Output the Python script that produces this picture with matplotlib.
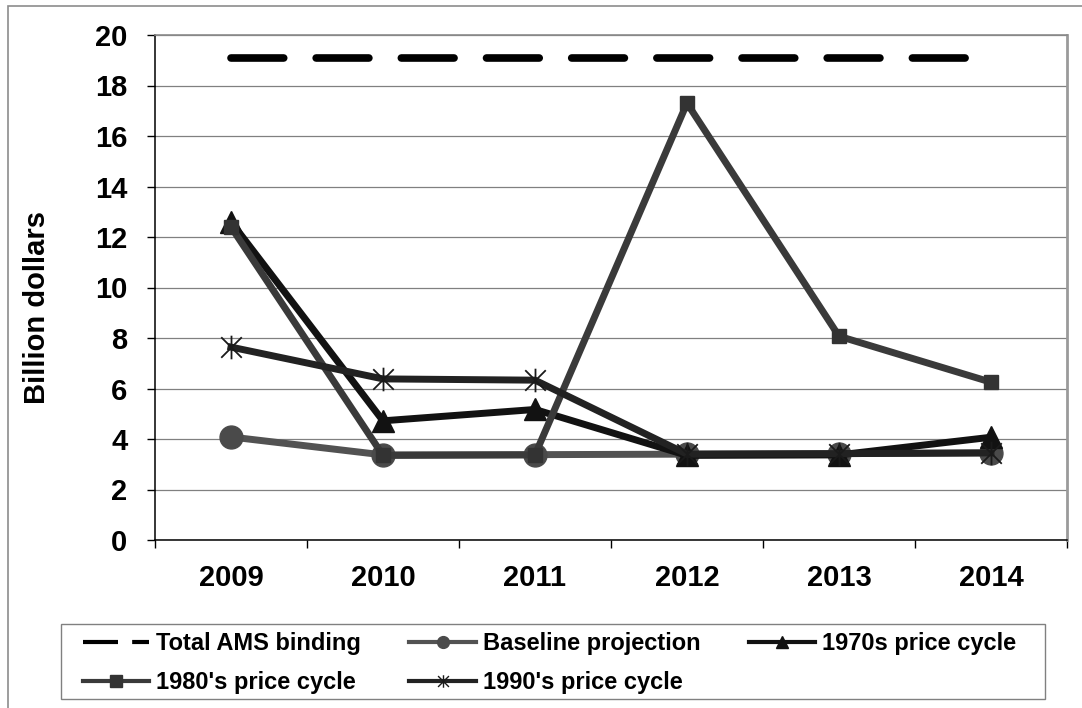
import matplotlib
matplotlib.use("Agg")
import matplotlib.pyplot as plt
from matplotlib.lines import Line2D
from matplotlib.patches import Rectangle
from matplotlib.path import Path

plt.rcParams['font.family'] = ['Liberation Sans', 'DejaVu Sans']
plt.rcParams['font.weight'] = 'bold'

# Chart data (billion dollars)
years = ['2009', '2010', '2011', '2012', '2013', '2014']
total_ams = [19.1, 19.1, 19.1, 19.1, 19.1, 19.1]
baseline = [4.08, 3.37, 3.38, 3.4, 3.42, 3.45]
cycle_1970s = [12.6, 4.72, 5.17, 3.35, 3.37, 4.07]
cycle_1980s = [12.4, 3.35, 3.37, 17.3, 8.07, 6.25]
cycle_1990s = [7.64, 6.38, 6.33, 3.4, 3.42, 3.45]
y_ticks = [0, 2, 4, 6, 8, 10, 12, 14, 16, 18, 20]

# asterisk marker: vertical bar plus an X
star = Path([(-1, -1), (1, 1), (-1, 1), (1, -1), (0, -1.15), (0, 1.15)],
            [Path.MOVETO, Path.LINETO, Path.MOVETO, Path.LINETO,
             Path.MOVETO, Path.LINETO])

W, H = 1082, 708
fig = plt.figure(figsize=(W / 100, H / 100), dpi=100)
ax = fig.add_axes([155 / W, 1 - 540 / H, 912 / W, 505 / H])

x = [i + 0.5 for i in range(len(years))]

ax.plot(x, total_ams, color='black', lw=5.5, dashes=(6.9, 4.25),
        dash_capstyle='round', zorder=3)
ax.plot(x, baseline, color='#525252', lw=5, marker='o', ms=16.5,
        mfc='#4a4a4a', mec='#4a4a4a', zorder=4)
ax.plot(x, cycle_1970s, color='#121212', lw=5, marker='^', ms=16,
        mfc='#121212', mec='#121212', zorder=5)
ax.plot(x, cycle_1980s, color='#3a3a3a', lw=5, marker='s', ms=9.5,
        mfc='#333333', mec='#333333', zorder=6)
ax.plot(x, cycle_1990s, color='#222222', lw=5, marker=star, ms=17,
        mfc='none', mec='#1a1a1a', mew=1.3, zorder=7)

ax.set_xlim(0, 6)
ax.set_ylim(0, 20)
ax.set_yticks(y_ticks)
ax.set_xticks(x)
ax.set_xticklabels(years)
ax.set_xticks(range(7), minor=True)
ax.tick_params(axis='x', which='major', length=0, pad=17, labelsize=21)
ax.tick_params(axis='x', which='minor', length=5.5, width=1, direction='out')
ax.tick_params(axis='y', length=5.8, width=1, pad=14, labelsize=21)
ax.grid(axis='y', color='#808080', lw=0.9, zorder=1)
ax.set_axisbelow(True)

ax.spines['left'].set_color('black')
ax.spines['left'].set_linewidth(1.1)
ax.spines['bottom'].set_color('black')
ax.spines['bottom'].set_linewidth(1.1)
ax.spines['top'].set_color('#8a8a8a')
ax.spines['top'].set_linewidth(1.2)
ax.spines['right'].set_color('#9a9a9a')
ax.spines['right'].set_linewidth(2)

ax.set_ylabel('Billion dollars', fontsize=21, fontweight='bold')
ax.yaxis.set_label_coords(-0.114, 0.46)

# outer chart frame
fig.patches.append(Rectangle((8 / W, -0.1), 1.2, 1 - 6 / H + 0.1,
                             transform=fig.transFigure, fill=False,
                             ec='#8c8c8c', lw=1.2))

# legend frame and entries (row-wise order)
fig.patches.append(Rectangle((61 / W, 1 - 699 / H), 984 / W, 75 / H,
                             transform=fig.transFigure, fill=False,
                             ec='#808080', lw=1))

h_total = Line2D([], [], color='black', lw=3, dashes=(8.4, 3.4))
h_base = Line2D([], [], color='#525252', lw=3, marker='o', ms=8.5,
                mfc='#4a4a4a', mec='#4a4a4a')
h_70 = Line2D([], [], color='#121212', lw=3, marker='^', ms=8.5,
              mfc='#121212', mec='#121212')
h_80 = Line2D([], [], color='#3a3a3a', lw=3, marker='s', ms=8.5,
              mfc='#333333', mec='#333333')
h_90 = Line2D([], [], color='#222222', lw=3, marker=star, ms=9,
              mfc='none', mec='#1a1a1a', mew=1)

handles = [h_total, h_80, h_base, h_90, h_70]
labels = ['Total AMS binding', "1980's price cycle", 'Baseline projection',
          "1990's price cycle", '1970s price cycle']
fig.legend(handles, labels, ncol=3, loc='center left',
           bbox_to_anchor=(83 / W, 1 - 663 / H), frameon=False,
           borderpad=0, borderaxespad=0, handlelength=2.8,
           handletextpad=0.3, columnspacing=2.05, labelspacing=0.68,
           prop={'size': 17, 'weight': 'bold'})

fig.savefig('out.png', dpi=100)
